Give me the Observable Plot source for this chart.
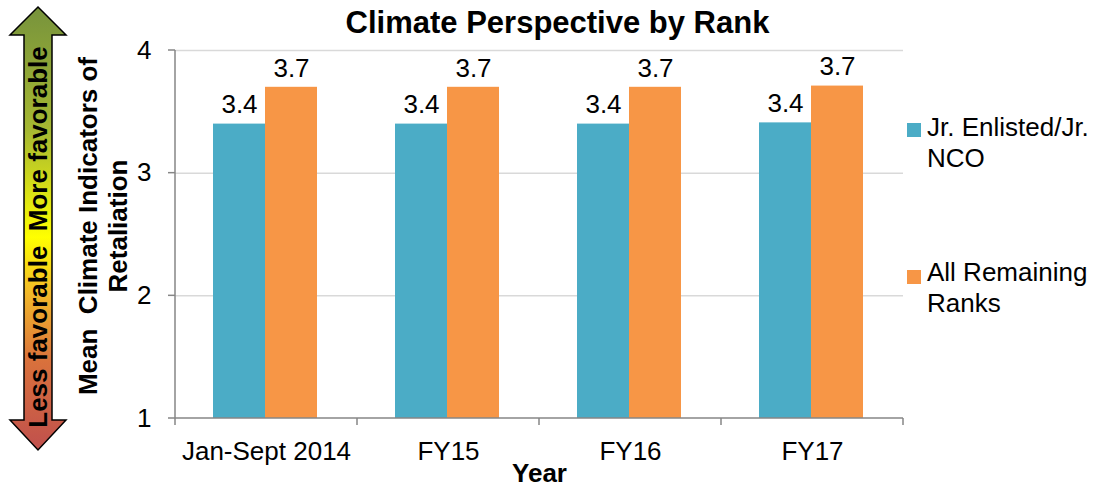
<!DOCTYPE html>
<html>
<head>
<meta charset="utf-8">
<script src="https://cdn.jsdelivr.net/npm/d3@7"></script>
<script src="https://cdn.jsdelivr.net/npm/@observablehq/plot@0.6"></script>
<style>
  html, body { margin: 0; padding: 0; background: #fff; }
  body { font-family: "Liberation Sans", Arial, sans-serif; }
  #wrap { position: relative; width: 1098px; height: 487px; overflow: hidden; }
  #chart { position: absolute; left: 0; top: 0; }
  .abs { position: absolute; white-space: nowrap; color: #000; }
  #title { left: 0; width: 1098px; top: 6px; text-align: center; font-weight: bold; font-size: 31px; line-height: 34px; padding-left: 17px; box-sizing: border-box; }
  .rot { transform-origin: center center; font-weight: bold; font-size: 26px; text-align: center; }
  .leg { font-size: 26px; line-height: 31px; }
  .sw { position: absolute; width: 14px; height: 14px; }
</style>
</head>
<body>
<div id="wrap">
  <div id="chart"></div>
  <div id="title" class="abs">Climate Perspective by Rank</div>
  <svg class="abs" style="left:0;top:0" width="80" height="487">
    <defs>
      <linearGradient id="g" x1="0" y1="0" x2="0" y2="1">
        <stop offset="0" stop-color="#77933c"/>
        <stop offset="0.28" stop-color="#a6b832"/>
        <stop offset="0.52" stop-color="#ffff00"/>
        <stop offset="0.65" stop-color="#f2b62a"/>
        <stop offset="0.8" stop-color="#d9713c"/>
        <stop offset="1" stop-color="#c0504d"/>
      </linearGradient>
    </defs>
    <path d="M38,7 L66,35 L52,35 L52,420 L66,420 L38,450 L10,420 L24,420 L24,35 L10,35 Z" fill="url(#g)" stroke="#000" stroke-width="1.5"/>
  </svg>
  <div class="abs rot" style="left:-162px;top:223px;width:400px;line-height:28px;transform:rotate(-90deg);">Less favorable&nbsp;&nbsp;More favorable</div>
  <div class="abs rot" style="left:-97px;top:196px;width:400px;line-height:30px;transform:rotate(-90deg);">Mean&nbsp;&nbsp;Climate Indicators of<br>Retaliation</div>
  <div id="legend"></div>
</div>
<script>
const categories = ["Jan-Sept 2014", "FY15", "FY16", "FY17"];
const seriesNames = ["Jr. Enlisted/Jr. NCO", "All Remaining Ranks"];
const juniorValues = [3.40, 3.40, 3.40, 3.41];
const remainingValues = [3.70, 3.70, 3.70, 3.71];
const yTicks = [1, 2, 3, 4];
const colors = ["#4bacc6", "#f79646"];

const junior = categories.map((c, i) => ({cat: c, v: juniorValues[i], series: seriesNames[0]}));
const remaining = categories.map((c, i) => ({cat: c, v: remainingValues[i], series: seriesNames[1]}));

const W = 1098, H = 487;
const mL = 175, mR = 195, mT = 50, mB = 69;
const step = (W - mL - mR) / categories.length;
const barW = 52;
const off = 38;

function axesLines(index, scales, values, dims) {
  const g = d3.create("svg:g");
  const x = scales.x;
  const bw = x.bandwidth ? x.bandwidth() : step;
  const y0 = scales.y(1);
  const xs = categories.map(c => x(c));
  xs.push(x(categories[categories.length - 1]) + bw);
  const x0 = dims.marginLeft, x1 = dims.width - dims.marginRight;
  g.append("line").attr("x1", x0).attr("x2", x1).attr("y1", y0).attr("y2", y0)
    .attr("stroke", "#868686").attr("stroke-width", 1.5);
  for (const xv of xs) {
    g.append("line").attr("x1", xv).attr("x2", xv).attr("y1", y0).attr("y2", y0 + 7)
      .attr("stroke", "#868686").attr("stroke-width", 1.5);
  }
  g.append("line").attr("x1", x0).attr("x2", x0).attr("y1", scales.y(4)).attr("y2", y0)
    .attr("stroke", "#868686").attr("stroke-width", 1.5);
  for (const t of yTicks) {
    g.append("line").attr("x1", x0 - 7).attr("x2", x0).attr("y1", scales.y(t)).attr("y2", scales.y(t))
      .attr("stroke", "#868686").attr("stroke-width", 1.5);
  }
  return g.node();
}

const chart = Plot.plot({
  width: W,
  height: H,
  marginLeft: mL,
  marginRight: mR,
  marginTop: mT,
  marginBottom: mB,
  style: {fontFamily: "'Liberation Sans', Arial, sans-serif", fontSize: "26px", color: "#000", background: "transparent"},
  x: {domain: categories, padding: 0, label: null},
  y: {domain: [1, 4], label: null},
  marks: [
    Plot.ruleY(yTicks.filter(t => t > 1), {y: d => d, stroke: "#d9d9d9", strokeWidth: 1.5}),
    Plot.barY(junior, {x: "cat", y1: 1, y2: "v", fill: colors[0], insetLeft: off, insetRight: step - off - barW}),
    Plot.barY(remaining, {x: "cat", y1: 1, y2: "v", fill: colors[1], insetLeft: off + barW, insetRight: step - off - 2 * barW}),
    Plot.text(junior, {x: "cat", y: "v", text: d => d.v.toFixed(1), dx: off + barW / 2 - step / 2, dy: -19, fontSize: 26, fill: "#000"}),
    Plot.text(remaining, {x: "cat", y: "v", text: d => d.v.toFixed(1), dx: off + 1.5 * barW - step / 2, dy: -19, fontSize: 26, fill: "#000"}),
    Plot.axisX({tickSize: 0, tickPadding: 23, fontSize: 26, label: null}),
    Plot.axisY({ticks: yTicks, tickSize: 0, tickPadding: 24, fontSize: 26, tickFormat: d => String(d), label: null}),
    Plot.text(["Year"], {frameAnchor: "bottom", lineAnchor: "middle", dy: 55, text: d => d, fontWeight: "bold", fontSize: 26, fill: "#000"}),
    axesLines
  ]
});
document.getElementById("chart").appendChild(chart);

// legend
const legend = document.getElementById("legend");
const legItems = [
  {name: ["Jr. Enlisted/Jr.", "NCO"], color: colors[0], top: 112, sw: 123},
  {name: ["All Remaining", "Ranks"], color: colors[1], top: 257, sw: 270}
];
for (const it of legItems) {
  const sw = document.createElement("div");
  sw.className = "sw";
  sw.style.left = "907px";
  sw.style.top = it.sw + "px";
  sw.style.background = it.color;
  legend.appendChild(sw);
  const t = document.createElement("div");
  t.className = "abs leg";
  t.style.left = "927px";
  t.style.top = it.top + "px";
  t.innerHTML = it.name.join("<br>");
  legend.appendChild(t);
}
</script>
</body>
</html>
